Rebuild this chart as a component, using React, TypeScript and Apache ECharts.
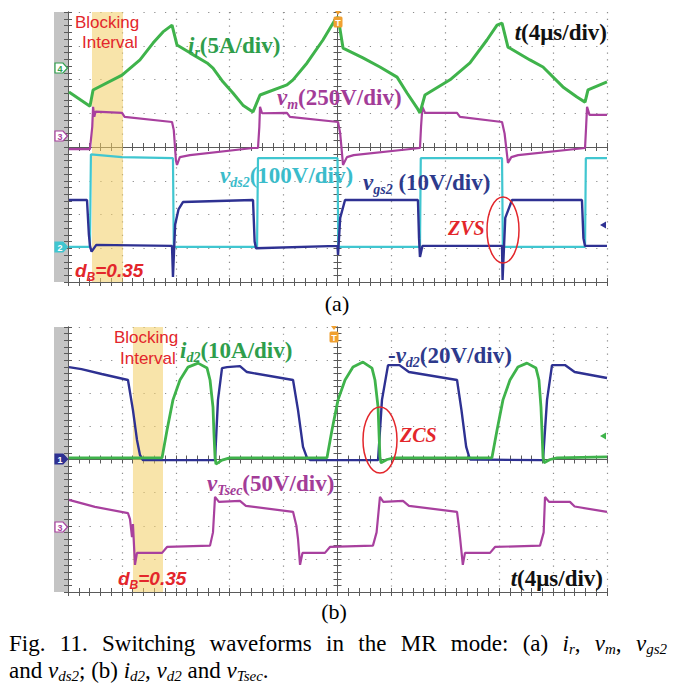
import React, { useEffect, useRef } from "react";
import * as echarts from "echarts";

// time in µs (4 µs/div, 10 div), value in screen divisions (8 div)
const timeRange = [0, 40];
const divRange = [0, 8];

// ---------- panel (a) ----------
const irData = [
  [0.07, 5.63], [1.63, 5.21], [1.86, 5.69], [4.01, 6.13], [5.34, 6.58], [6.31, 7.08], [7.05, 7.41],
  [7.72, 7.61], [8.09, 7.02], [9.05, 6.79], [10.32, 6.49], [10.76, 6.34], [11.5, 5.93], [12.24, 5.6],
  [12.98, 5.24], [13.73, 5.04], [14.25, 5.54], [16.25, 5.84], [16.7, 5.99], [17.74, 6.49], [18.92, 7.17],
  [19.81, 7.76], [20.04, 7.85], [20.41, 6.93], [21.89, 6.64], [23.15, 6.37], [24.42, 6.07], [25.16, 5.6],
  [25.9, 5.16], [26.12, 5.01], [26.49, 5.54], [28.35, 5.99], [29.83, 6.49], [31.09, 7.17], [31.84, 7.61],
  [32.21, 7.67], [32.65, 6.96], [34.28, 6.58], [35.25, 6.37], [36.73, 5.78], [37.77, 5.48], [38.37, 5.33],
  [38.59, 5.69], [40.0, 5.93],
];
const vmData = [
  [0.07, 3.94], [1.63, 3.94], [1.8, 4.6], [1.86, 5.19], [1.95, 4.9], [2.05, 5.05], [4.01, 5.01], [4.2, 4.89],
  [7.72, 4.74], [7.85, 4.5], [8.01, 3.6], [8.09, 3.47], [8.3, 3.7], [9.05, 3.76], [13.73, 3.97], [14.1, 3.97],
  [14.2, 4.6], [14.25, 5.19], [14.4, 5.0], [16.25, 5.01], [16.47, 4.89], [20.04, 4.74], [20.2, 4.4],
  [20.41, 3.47], [20.7, 3.7], [21.2, 3.76], [26.12, 3.97], [26.2, 4.6], [26.3, 5.19], [26.5, 5.01],
  [28.87, 5.01], [29.09, 4.89], [32.21, 4.74], [32.4, 4.4], [32.65, 3.53], [32.9, 3.7], [33.4, 3.76],
  [38.37, 3.97], [38.45, 4.6], [38.52, 5.19], [38.7, 4.95], [40.0, 4.95],
];
const vds2Data = [
  [0.07, 1.04], [1.63, 1.04], [1.7, 3.78], [4.0, 3.7], [7.79, 3.67], [7.85, 1.04], [14.03, 1.04],
  [14.1, 3.67], [20.0, 3.67], [20.06, 1.04], [26.12, 1.04], [26.18, 3.67], [32.21, 3.67], [32.27, 1.04],
  [38.37, 1.04], [38.43, 3.67], [40.0, 3.67],
];
const vgs2Data = [
  [0.07, 2.43], [1.41, 2.43], [1.55, 1.4], [1.63, 1.07], [1.75, 0.9], [2.1, 1.1], [7.72, 1.07], [7.79, 0.15],
  [7.95, 1.7], [8.2, 2.15], [8.53, 2.37], [13.73, 2.43], [13.85, 1.2], [13.95, 1.0], [20.0, 1.07],
  [20.04, 0.8], [20.2, 1.9], [20.56, 2.43], [25.97, 2.43], [26.05, 1.3], [26.12, 0.74], [26.3, 1.07],
  [32.21, 1.07], [32.25, 0.06], [32.45, 1.9], [32.95, 2.43], [38.14, 2.43], [38.25, 1.3], [38.37, 1.07],
  [40.0, 1.07],
];
const blockA = [1.78, 4.08];

// ---------- panel (b) ----------
const id2Data = [
  [0.07, 4.05], [6.98, 4.05], [7.35, 4.89], [7.79, 5.8], [8.31, 6.4], [8.91, 6.79], [9.65, 6.91],
  [10.32, 6.76], [10.54, 6.4], [10.76, 5.58], [10.83, 4.8], [10.91, 4.08], [10.98, 3.86], [11.43, 3.98],
  [12.0, 4.05], [19.22, 4.05], [19.59, 4.89], [20.04, 5.8], [20.56, 6.4], [21.15, 6.79], [21.89, 6.94],
  [22.56, 6.76], [22.78, 6.4], [23.01, 5.58], [23.08, 4.8], [23.15, 4.08], [23.23, 3.9], [23.67, 4.0],
  [24.2, 4.05], [31.46, 4.05], [31.84, 4.89], [32.28, 5.8], [32.8, 6.4], [33.39, 6.79], [34.06, 6.91],
  [34.73, 6.76], [34.95, 6.4], [35.1, 5.58], [35.18, 4.8], [35.25, 4.08], [35.33, 3.9], [35.77, 4.0],
  [36.3, 4.05], [40.0, 4.08],
];
const vd2Data = [
  [0.07, 6.79], [1.0, 6.73], [2.5, 6.58], [4.45, 6.4], [4.82, 5.49], [5.12, 4.59], [5.34, 4.14],
  [5.56, 3.98], [10.91, 3.98], [11.13, 5.8], [11.43, 6.76], [11.8, 6.79], [12.76, 6.82], [13.28, 6.64],
  [16.7, 6.4], [17.07, 5.49], [17.44, 4.38], [17.74, 4.05], [18.0, 3.98], [23.01, 3.98], [23.3, 5.8],
  [23.75, 6.85], [24.6, 6.85], [25.3, 6.64], [28.87, 6.4], [29.2, 5.49], [29.55, 4.38], [29.83, 4.0],
  [35.25, 3.98], [35.55, 5.8], [35.92, 6.85], [36.88, 6.85], [37.6, 6.64], [40.0, 6.46],
];
const vTsecData = [
  [0.07, 2.78], [2.0, 2.57], [4.45, 2.38], [4.6, 2.2], [4.75, 1.66], [4.82, 2.05], [4.97, 0.82],
  [5.12, 1.18], [6.98, 1.18], [7.35, 1.36], [10.54, 1.4], [10.76, 1.8], [10.91, 2.87], [11.2, 2.72],
  [12.76, 2.75], [13.2, 2.6], [16.7, 2.42], [16.95, 2.0], [17.07, 1.6], [17.22, 0.82], [17.4, 1.18],
  [19.07, 1.18], [19.44, 1.36], [22.63, 1.4], [22.9, 1.8], [23.15, 2.87], [23.4, 2.72], [24.86, 2.75],
  [25.3, 2.6], [28.87, 2.42], [29.0, 2.0], [29.09, 1.66], [29.3, 0.82], [29.46, 1.18], [31.32, 1.18],
  [31.69, 1.36], [35.03, 1.4], [35.3, 1.8], [35.4, 2.87], [35.7, 2.72], [37.25, 2.72], [37.6, 2.58],
  [40.0, 2.42],
];
const blockB = [4.82, 7.05];

// caption words: segments [text, style] with n = roman, i = italic, s = italic subscript
const captionLine1: [string, string][][] = [
  [["Fig.", "n"]], [["11.", "n"]], [["Switching", "n"]], [["waveforms", "n"]], [["in", "n"]],
  [["the", "n"]], [["MR", "n"]], [["mode:", "n"]], [["(a)", "n"]],
  [["i", "i"], ["r", "s"], [",", "n"]], [["v", "i"], ["m", "s"], [",", "n"]], [["v", "i"], ["gs2", "s"]],
];
const captionLine2: [string, string][][] = [
  [["and", "n"]], [["v", "i"], ["ds2", "s"], [";", "n"]], [["(b)", "n"]], [["i", "i"], ["d2", "s"], [",", "n"]],
  [["v", "i"], ["d2", "s"]], [["and", "n"]], [["v", "i"], ["Tsec", "s"], [".", "n"]],
];

// ---------- layout / style ----------
const gridA = { left: 68, top: 12, width: 539, height: 270 };
const gridB = { left: 68, top: 327, width: 539, height: 265 };
const SERIF = '"Liberation Serif", "Times New Roman", serif';
const SANS = '"Liberation Sans", Arial, sans-serif';
const CAP_SIZE = 23;
const CAP_SUB = 0.66;
const C = {
  green: "#3fb34b",
  greenTxt: "#2f9e4c",
  mag: "#a8409e",
  magTxt: "#a33c98",
  cyan: "#40c6d0",
  cyanTxt: "#3bbccb",
  navy: "#2e3192",
  navyTxt: "#2d3a8c",
  red: "#e3262b",
  axis: "#5a5a5a",
  dot: "#8c8c8c",
};

function axesFor(gi: number, g: { width: number; height: number }) {
  const axisLine = { show: true, lineStyle: { color: C.axis, width: 1 } };
  const minorTick = { show: true, splitNumber: 5, length: 4, lineStyle: { color: C.axis, width: 1 } };
  const tick = (inside: boolean) => ({ show: true, inside, length: 4, lineStyle: { color: C.axis, width: 1 } });
  const xb: any = {
    type: "value", gridIndex: gi, min: timeRange[0], max: timeRange[1], interval: 4,
    axisLabel: { show: false }, axisLine, splitLine: { show: false }, minorTick,
  };
  const yb: any = {
    type: "value", gridIndex: gi, min: divRange[0], max: divRange[1], interval: 1,
    axisLabel: { show: false }, axisLine, splitLine: { show: false }, minorTick,
  };
  const xs = [
    { ...xb, position: "bottom", axisTick: tick(true),
      splitLine: { show: true, lineStyle: { color: C.dot, width: 1.2, type: [1.2, g.height / 40 - 1.2] } } },
    { ...xb, position: "top", axisTick: tick(true) },
    { ...xb, position: "bottom", offset: -g.height / 2, axisTick: tick(true) },
    { ...xb, position: "bottom", offset: -g.height / 2, axisTick: tick(false) },
  ];
  const ys = [
    { ...yb, position: "left", axisTick: tick(true),
      splitLine: { show: true, lineStyle: { color: C.dot, width: 1.2, type: [1.2, g.width / 50 - 1.2] } } },
    { ...yb, position: "right", axisTick: tick(true) },
    { ...yb, position: "left", offset: -g.width / 2, axisTick: tick(true) },
    { ...yb, position: "left", offset: -g.width / 2, axisTick: tick(false) },
  ];
  return { xs, ys };
}

function line(data: number[][], color: string, axisIdx: number, width: number, z: number) {
  return {
    type: "line", data, xAxisIndex: axisIdx, yAxisIndex: axisIdx, showSymbol: false, symbol: "none",
    silent: true, z, lineStyle: { color, width }, itemStyle: { color },
  };
}

function block(range: number[], axisIdx: number) {
  return {
    type: "line", data: [], xAxisIndex: axisIdx, yAxisIndex: axisIdx, z: 10, silent: true,
    markArea: {
      silent: true,
      itemStyle: { color: "rgba(243,205,100,0.55)" },
      data: [[{ xAxis: range[0] }, { xAxis: range[1] }]],
    },
  };
}

function rich(family: string, size: number, weight: string, color: string, subScale = 0.6, lh = 6) {
  const sub = Math.round(size * subScale);
  return {
    n: { fontFamily: family, fontSize: size, fontWeight: weight, fill: color, lineHeight: size + lh },
    i: { fontFamily: family, fontSize: size, fontWeight: weight, fontStyle: "italic", fill: color, lineHeight: size + lh },
    s: { fontFamily: family, fontSize: sub, fontWeight: weight, fontStyle: "italic", fill: color, verticalAlign: "bottom" },
  };
}
function textEl(x: number, y: number, text: string, r: any, align = "left") {
  return {
    type: "text", x, y, z: 100,
    style: { text, align, textAlign: align, verticalAlign: "middle", textVerticalAlign: "middle", rich: r },
  };
}
function plain(x: number, y: number, text: string, font: string, fill: string, align = "center", z = 100) {
  return {
    type: "text", x, y, z,
    style: { text, font, fill, align, textAlign: align, verticalAlign: "middle", textVerticalAlign: "middle" },
  };
}
function chMarker(y: number, color: string, filled: boolean, label: string) {
  return [
    { type: "polygon", z: 60, shape: { points: [[55, y - 5], [63, y - 5], [67.5, y], [63, y + 5], [55, y + 5]] },
      style: { fill: filled ? color : "#fff", stroke: color, lineWidth: 1.2 } },
    plain(60, y + 0.5, label, `bold 9px ${SANS}`, filled ? "#fff" : color, "center", 61),
  ];
}
function trig(x: number, top: number, y: number) {
  return [
    { type: "polygon", z: 60, shape: { points: [[x - 3, top - 1], [x + 3, top - 1], [x, top + 3]] }, style: { fill: "#f0a030" } },
    { type: "rect", z: 60, shape: { x: x - 4.5, y: y - 5.5, width: 9, height: 11, r: 1.5 }, style: { fill: "#f0a030" } },
    plain(x, y + 0.5, "T", `bold 9px ${SANS}`, "#fff", "center", 61),
  ];
}
function leftArrow(x: number, y: number, color: string) {
  return { type: "polygon", z: 60, shape: { points: [[x, y], [x + 6, y - 3.5], [x + 6, y + 3.5]] }, style: { fill: color } };
}

// measure caption words with a canvas so line 1 can be justified
let measureCtx: CanvasRenderingContext2D | null = null;
function segFont(k: string) {
  const size = k === "s" ? Math.round(CAP_SIZE * CAP_SUB) : CAP_SIZE;
  const style = k === "n" ? "normal" : "italic";
  return `${style} normal ${size}px ${SERIF}`;
}
function wordWidth(word: [string, string][]) {
  if (!measureCtx) measureCtx = document.createElement("canvas").getContext("2d");
  let w = 0;
  for (const [t, k] of word) {
    if (measureCtx) {
      measureCtx.font = segFont(k);
      w += measureCtx.measureText(t).width;
    } else {
      w += t.length * CAP_SIZE * 0.45;
    }
  }
  return w;
}
const wordMarkup = (word: [string, string][]) => word.map(([t, k]) => `{${k}|${t}}`).join("");
function captionLine(words: [string, string][][], x0: number, x1: number | null, y: number, r: any) {
  const widths = words.map(wordWidth);
  const total = widths.reduce((s, v) => s + v, 0);
  const gap = x1 === null ? CAP_SIZE * 0.25 : (x1 - x0 - total) / (words.length - 1);
  const out: any[] = [];
  let x = x0;
  words.forEach((w, k) => {
    out.push(textEl(x, y, wordMarkup(w), r));
    x += widths[k] + gap;
  });
  return out;
}

const lab = (c: string) => rich(SERIF, 23, "bold", c);
const capR = rich(SERIF, CAP_SIZE, "normal", "#000", CAP_SUB, 3);

function buildOption() {
  const a = axesFor(0, gridA);
  const b = axesFor(1, gridB);
  const xAxis = [...a.xs, ...b.xs];
  const yAxis = [...a.ys, ...b.ys];
  const ai = 0;
  const bi = 4;
  const series = [
    line(vds2Data, C.cyan, ai, 2.2, 2),
    line(vgs2Data, C.navy, ai, 2.4, 3),
    line(vmData, C.mag, ai, 2.2, 4),
    line(irData, C.green, ai, 3, 5),
    block(blockA, ai),
    line(vTsecData, C.mag, bi, 2.2, 2),
    line(vd2Data, C.navy, bi, 2.4, 3),
    line(id2Data, C.green, bi, 2.8, 4),
    block(blockB, bi),
  ];
  const redSans = rich(SANS, 19, "bold", C.red, 0.62);
  const graphic: any[] = [
    // gray side bars
    { type: "rect", z: 0, shape: { x: 54, y: 12, width: 14, height: 270 }, style: { fill: "#c4c4c4" } },
    { type: "rect", z: 0, shape: { x: 54, y: 327, width: 14, height: 265 }, style: { fill: "#c4c4c4" } },
    ...chMarker(68, C.greenTxt, false, "4"),
    ...chMarker(136, C.mag, false, "3"),
    ...chMarker(247, C.cyan, true, "2"),
    ...chMarker(459, C.navy, true, "1"),
    ...chMarker(527, C.mag, false, "3"),
    ...trig(338, 12, 22),
    ...trig(334, 327, 337),
    leftArrow(600, 225, C.navy),
    leftArrow(600, 436, C.green),
    // panel (a) labels
    plain(75, 22, "Blocking", `17px ${SANS}`, C.red, "left"),
    plain(82, 42, "Interval", `17px ${SANS}`, C.red, "left"),
    textEl(188, 45, "{i|i}{s|r}{n|(5A/div)}", lab(C.greenTxt)),
    textEl(277, 97, "{i|v}{s|m}{n|(250V/div)}", lab(C.magTxt)),
    textEl(607, 32, "{i|t}{n|(4μs/div)}", lab("#111"), "right"),
    textEl(220, 175, "{i|v}{s|ds2}{n|(100V/div)}", lab(C.cyanTxt)),
    textEl(363, 182, "{i|v}{s|gs2}{n| (10V/div)}", lab(C.navyTxt)),
    textEl(75, 270, "{i|d}{s|B}{i|=0.35}", redSans),
    textEl(448, 228, "{i|ZVS}", rich(SERIF, 20, "bold", C.red)),
    { type: "ellipse", z: 90, shape: { cx: 503, cy: 230, rx: 16, ry: 33 }, style: { fill: "none", stroke: C.red, lineWidth: 1.5 } },
    plain(337, 303, "(a)", `22px ${SERIF}`, "#000"),
    // panel (b) labels
    plain(114, 337, "Blocking", `17px ${SANS}`, C.red, "left"),
    plain(120, 358, "Interval", `17px ${SANS}`, C.red, "left"),
    textEl(180, 350, "{i|i}{s|d2}{n|(10A/div)}", lab(C.greenTxt)),
    textEl(388, 355, "{n|-}{i|v}{s|d2}{n|(20V/div)}", lab(C.navyTxt)),
    textEl(207, 483, "{i|v}{s|Tsec}{n|(50V/div)}", lab(C.magTxt)),
    textEl(603, 578, "{i|t}{n|(4μs/div)}", lab("#111"), "right"),
    textEl(118, 578, "{i|d}{s|B}{i|=0.35}", redSans),
    textEl(400, 435, "{i|ZCS}", rich(SERIF, 20, "bold", C.red)),
    { type: "ellipse", z: 90, shape: { cx: 380, cy: 440, rx: 17, ry: 33 }, style: { fill: "none", stroke: C.red, lineWidth: 1.5 } },
    plain(334, 611, "(b)", `22px ${SERIF}`, "#000"),
    // caption
    ...captionLine(captionLine1, 9, 667, 643, capR),
    ...captionLine(captionLine2, 9, null, 670, capR),
  ];
  return {
    animation: false,
    backgroundColor: "#ffffff",
    grid: [
      { ...gridA, containLabel: false, outerBoundsMode: "none", show: false },
      { ...gridB, containLabel: false, outerBoundsMode: "none", show: false },
    ],
    xAxis,
    yAxis,
    series,
    graphic,
  };
}

export default function App() {
  const ref = useRef<HTMLDivElement>(null);
  useEffect(() => {
    const chart = echarts.init(ref.current!, undefined, { renderer: "svg", width: 685, height: 685 });
    chart.setOption(buildOption() as any);
    return () => chart.dispose();
  }, []);
  return (
    <div
      ref={ref}
      style={{ position: "absolute", left: 0, top: 0, width: 685, height: 685, background: "#fff" }}
    />
  );
}
